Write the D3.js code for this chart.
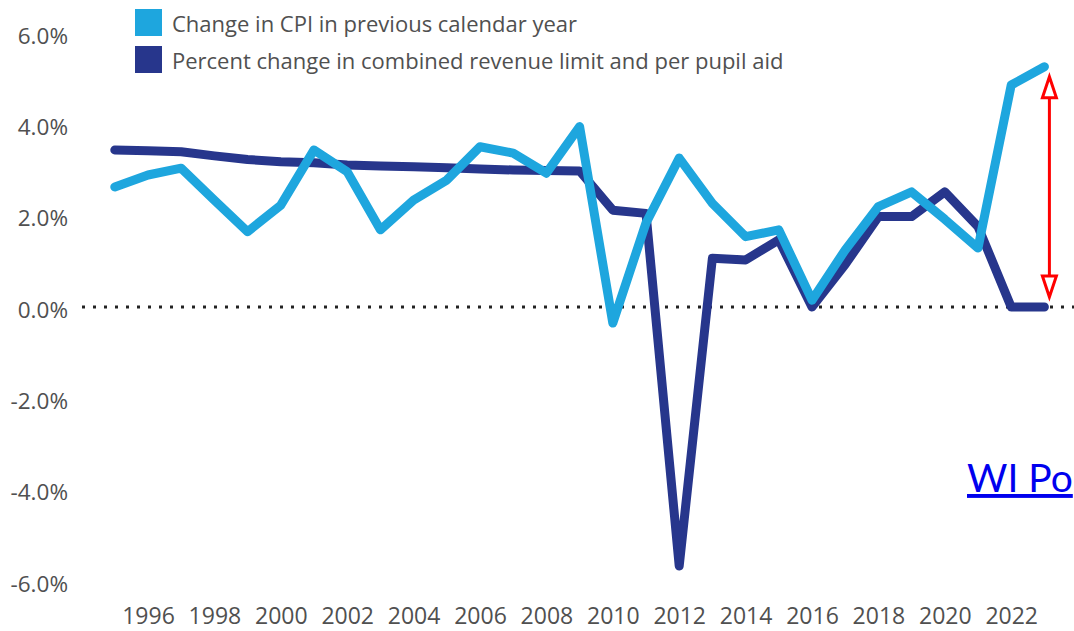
<!DOCTYPE html>
<html>
<head>
<meta charset="utf-8">
<script src="https://cdn.jsdelivr.net/npm/d3@7"></script>
<style>
  body { margin: 0; background: #fff; }
  svg { display: block; }
</style>
</head>
<body>
<svg id="chart" width="1074" height="631"></svg>
<script>
// years on the x axis
var years = [1995, 1996, 1997, 1998, 1999, 2000, 2001, 2002, 2003, 2004,
             2005, 2006, 2007, 2008, 2009, 2010, 2011, 2012, 2013, 2014,
             2015, 2016, 2017, 2018, 2019, 2020, 2021, 2022, 2023];

// Change in CPI in previous calendar year (%)
var cpiChange = [2.63, 2.89, 3.04, 2.34, 1.65, 2.23, 3.44, 2.96, 1.69, 2.34,
                 2.78, 3.51, 3.37, 2.93, 3.95, -0.35, 1.84, 3.26, 2.27, 1.54,
                 1.69, 0.15, 1.25, 2.20, 2.52, 1.92, 1.29, 4.86, 5.26];

// Percent change in combined revenue limit and per pupil aid (%)
var revenueChange = [3.44, 3.42, 3.40, 3.31, 3.23, 3.18, 3.16, 3.11, 3.09, 3.07,
                     3.05, 3.02, 3.00, 2.99, 2.98, 2.12, 2.05, -5.67, 1.07, 1.03,
                     1.47, 0.0, 0.93, 1.98, 1.98, 2.52, 1.76, 0.0, 0.0];

var yTicks = [-6, -4, -2, 0, 2, 4, 6];
var xTicks = [1996, 1998, 2000, 2002, 2004, 2006, 2008, 2010, 2012, 2014, 2016, 2018, 2020, 2022];

var legendLabels = ["Change in CPI in previous calendar year",
                    "Percent change in combined revenue limit and per pupil aid"];
var lightBlue = "#1ea6de";
var darkBlue = "#27368c";
var textColor = "#505050";

var svg = d3.select("#chart");

var x = d3.scaleLinear().domain([1995, 2023]).range([114.8, 1044.4]);
var y = d3.scaleLinear().domain([-6, 6]).range([581, 33]);

// y axis labels (plain hyphen for negatives, like the original)
var yAxis = d3.axisLeft(y)
  .tickValues(yTicks)
  .tickSize(0)
  .tickPadding(0)
  .tickFormat(function(d) { return (d < 0 ? "-" : "") + Math.abs(d).toFixed(1) + "%"; });

var gy = svg.append("g")
  .attr("transform", "translate(68,0)")
  .call(yAxis);
gy.select(".domain").remove();
gy.selectAll("text")
  .attr("fill", textColor)
  .attr("dy", "0.45em")
  .style("font-family", "'Open Sans', sans-serif")
  .style("font-size", "22.5px");

// x axis labels
var xAxis = d3.axisBottom(x)
  .tickValues(xTicks)
  .tickSize(0)
  .tickPadding(0)
  .tickFormat(d3.format("d"));

var gx = svg.append("g")
  .attr("transform", "translate(0,607)")
  .call(xAxis);
gx.select(".domain").remove();
gx.selectAll("text")
  .attr("fill", textColor)
  .attr("dy", "0.75em")
  .style("font-family", "'Open Sans', sans-serif")
  .style("font-size", "23px");

// dotted zero line
svg.append("line")
  .attr("x1", 82)
  .attr("x2", 1074)
  .attr("y1", y(0))
  .attr("y2", y(0))
  .attr("stroke", "#222")
  .attr("stroke-width", 3)
  .attr("stroke-dasharray", "3,8");

var line = d3.line()
  .x(function(d, i) { return x(years[i]); })
  .y(function(d) { return y(d); });

svg.append("path")
  .attr("d", line(revenueChange))
  .attr("fill", "none")
  .attr("stroke", darkBlue)
  .attr("stroke-width", 9)
  .attr("stroke-linejoin", "round")
  .attr("stroke-linecap", "round");

svg.append("path")
  .attr("d", line(cpiChange))
  .attr("fill", "none")
  .attr("stroke", lightBlue)
  .attr("stroke-width", 9)
  .attr("stroke-linejoin", "round")
  .attr("stroke-linecap", "round");

// legend
var legend = svg.append("g");
[lightBlue, darkBlue].forEach(function(c, i) {
  legend.append("rect")
    .attr("x", 135)
    .attr("y", 9 + i * 37)
    .attr("width", 27)
    .attr("height", 27)
    .attr("fill", c);
  legend.append("text")
    .attr("x", 172)
    .attr("y", 32 + i * 37)
    .attr("fill", textColor)
    .style("font-family", "'Open Sans', sans-serif")
    .style("font-size", "22px")
    .text(legendLabels[i]);
});

// red double-headed arrow at the last year
var last = years.length - 1;
var ax = x(years[last]) + 5;
var topTip = y(cpiChange[last]) + 10;
var botTip = y(revenueChange[last]) - 10;
svg.append("line")
  .attr("x1", ax).attr("x2", ax)
  .attr("y1", topTip + 20).attr("y2", botTip - 20)
  .attr("stroke", "red")
  .attr("stroke-width", 3);
svg.append("path")
  .attr("d", "M" + ax + "," + topTip + "L" + (ax - 7) + "," + (topTip + 21) + "L" + (ax + 7) + "," + (topTip + 21) + "Z")
  .attr("fill", "#fff")
  .attr("stroke", "red")
  .attr("stroke-width", 3);
svg.append("path")
  .attr("d", "M" + ax + "," + botTip + "L" + (ax - 7) + "," + (botTip - 21) + "L" + (ax + 7) + "," + (botTip - 21) + "Z")
  .attr("fill", "#fff")
  .attr("stroke", "red")
  .attr("stroke-width", 3);

// link text on the right
svg.append("text")
  .attr("x", 967)
  .attr("y", 492)
  .attr("fill", "#0000ee")
  .style("font-family", "Lato, sans-serif")
  .style("font-size", "39px")
  .style("text-decoration", "underline")
  .text("WI Po");
</script>
</body>
</html>
